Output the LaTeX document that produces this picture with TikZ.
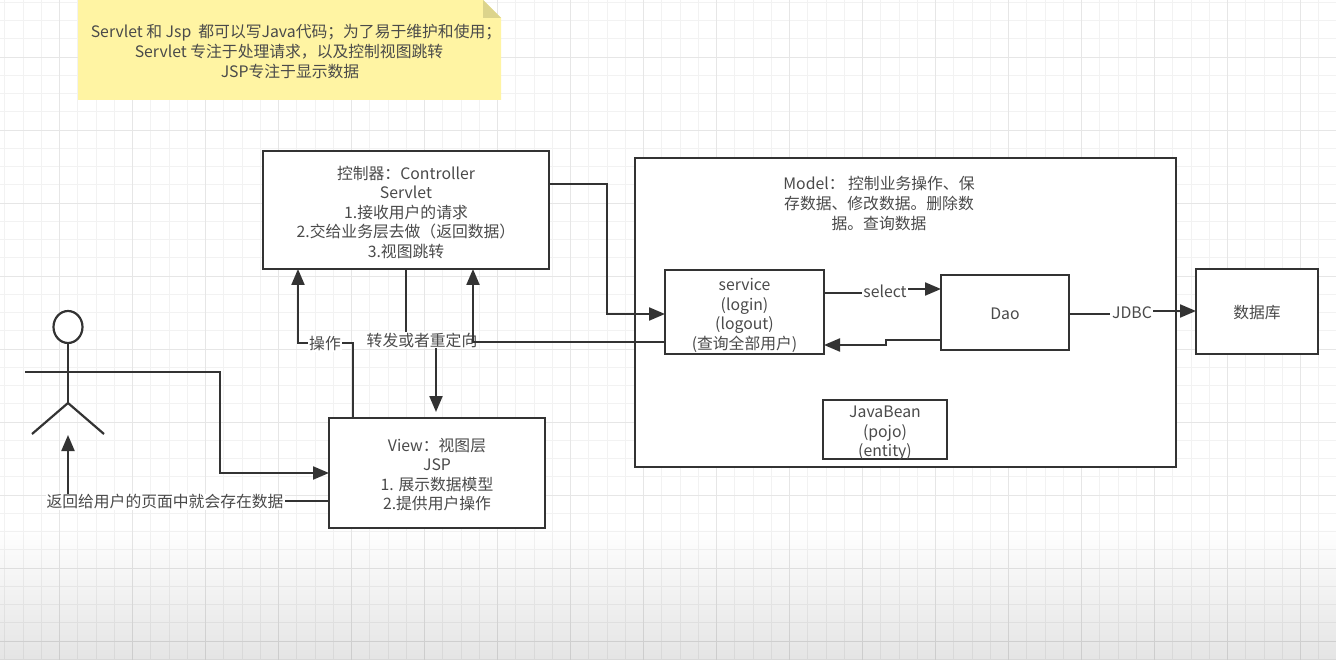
\documentclass[tikz,border=0pt]{standalone}
\usepackage{fontspec}
\setmainfont{Noto Sans CJK SC}
\usetikzlibrary{arrows.meta,shapes.geometric}
\definecolor{ink}{HTML}{333333}
\definecolor{txt}{HTML}{4A4A4A}
\definecolor{gridminor}{HTML}{F2F2F2}
\definecolor{gridmajor}{HTML}{E6E6E6}
\definecolor{noteyellow}{HTML}{FFF4A3}
\definecolor{notefold}{HTML}{DCD48C}
\tikzset{
  x=1pt,y=-1pt,
  boxn/.style={draw=ink,line width=2.2pt,fill=white,inner sep=0pt,outer sep=0pt,anchor=north west},
  boxtext/.style={align=center,text=txt,font=\fontsize{15.8}{19.5}\selectfont,inner sep=0pt},
  conn/.style={draw=ink,line width=2.2pt,line join=miter},
  arr/.style={conn,-{Triangle[length=16pt,width=13pt]}},
  lab/.style={fill=white,text=txt,font=\fontsize{15.8}{19}\selectfont,inner xsep=1pt,inner ysep=1pt,align=center},
}
\begin{document}
\begin{tikzpicture}
\useasboundingbox (0,0) rectangle (1336,660);
\fill[white] (0,0) rectangle (1336,660);
% grid
\foreach \i in {0,...,73} {\draw[gridminor,line width=.8pt] (\i*18.25+4.7,0) -- (\i*18.25+4.7,660);}
\foreach \i in {0,...,36} {\draw[gridminor,line width=.8pt] (0,\i*18.25+2.3) -- (1336,\i*18.25+2.3);}
\foreach \i in {0,...,17} {\draw[gridmajor,line width=.9pt] (\i*73+59.7,0) -- (\i*73+59.7,660);}
\foreach \i in {0,...,8} {\draw[gridmajor,line width=.9pt] (0,\i*73+57) -- (1336,\i*73+57);}
% bottom fade
\foreach \i in {0,...,25} {\fill[black,fill opacity=.0035] (0,530+\i*5) rectangle (1336,660);}
% note
\fill[noteyellow] (78,0) -- (483,0) -- (501,18) -- (501,100) -- (78,100) -- cycle;
\fill[notefold] (483,0) -- (501,18) -- (483,18) -- cycle;
\node[boxtext,font=\fontsize{15.8}{19.8}\selectfont] (note) at (296,51.5)
 {Servlet 和 Jsp\ \ 都可以写Java代码；为了易于维护和使用；\\Servlet 专注于处理请求，以及控制视图跳转\rule{14pt}{0pt}\\JSP专注于显示数据\rule{12pt}{0pt}};
% model container
\node[boxn,minimum width=541pt,minimum height=309pt] (model) at (635,158) {};
\node[boxtext,font=\fontsize{15.8}{20}\selectfont] (modelt) at (879,204)
 {Model： 控制业务操作、保\\存数据、修改数据。删除数\\据。查询数据};
% boxes
\node[boxn,minimum width=286pt,minimum height=118pt] (ctrl) at (263,151) {};
\node[boxtext,yshift=-2.2pt] (ctrlt) at (ctrl.center)
 {控制器：Controller\\Servlet\\1.接收用户的请求\\2.交给业务层去做（返回数据）\\3.视图跳转};
\node[boxn,minimum width=216pt,minimum height=110pt] (view) at (329,418) {};
\node[boxtext,yshift=-1.5pt] (viewt) at (view.center)
 {View：视图层\\JSP\\1. 展示数据模型\\2.提供用户操作};
\node[boxn,minimum width=159pt,minimum height=84pt] (svc) at (665,270) {};
\node[boxtext,yshift=-3.5pt] (svct) at (svc.center)
 {service\\(login)\\(logout)\\(查询全部用户)};
\node[boxn,minimum width=128pt,minimum height=75pt] (dao) at (941,275) {};
\node[boxtext,yshift=-1pt] (daot) at (dao.center) {Dao};
\node[boxn,minimum width=122pt,minimum height=85pt] (db) at (1196,269) {};
\node[boxtext,yshift=-1pt] (dbt) at (db.center) {数据库};
\node[boxn,minimum width=124pt,minimum height=59pt] (bean) at (823,400) {};
\node[boxtext,yshift=-4pt] (beant) at (bean.center) {JavaBean\\(pojo)\\(entity)};
% actor
\node[draw=ink,line width=2.2pt,fill=white,ellipse,minimum width=29pt,minimum height=32pt,inner sep=0pt,outer sep=0pt] (head) at (68,327) {};
\coordinate (hipc) at (68,403);
\coordinate (armL) at (25,372);
\coordinate (armR) at (113,372);
\coordinate (legL) at (32,434);
\coordinate (legR) at (104,434);
\draw[conn] (head.south) -- (hipc);
\draw[conn] (armL) -- (armR);
\draw[conn] (legL) -- (hipc) -- (legR);
% connectors
\coordinate (c1) at (607,184);
\coordinate (c2) at (607,314);
\draw[arr] (ctrl.east |- c1) -- (c1) -- (c2) -- (svc.west |- c2);
% select
\coordinate (s1) at (880,293);
\coordinate (s2) at (880,289);
\draw[conn] (svc.east |- s1) -- (s1);
\draw[arr] (s2) -- (dao.west |- s2);
\node[lab] (sel) at (885,291) {select};
% dao back
\coordinate (d1) at (886,340);
\coordinate (d2) at (886,345);
\draw[arr] (dao.west |- d1) -- (d1) -- (d2) -- (svc.east |- d2);
% JDBC
\coordinate (j1) at (1110,314);
\coordinate (j2) at (1150,311);
\draw[conn] (dao.east |- j1) -- (j1);
\draw[arr] (j2) -- (db.west |- j2);
\node[lab] (jdbc) at (1132,313) {JDBC};
% controller to view
\coordinate (t1) at (406,342);
\coordinate (t2) at (436,342);
\coordinate (t3) at (436,412);
\draw[arr] (ctrl.south -| t1) -- (t1) -- (t2) -- (t3);
\node[lab] (fw) at (422,340) {转发或者重定向};
% service back to controller
\coordinate (b1) at (473,342);
\draw[arr] (svc.west |- b1) -- (b1) -- (ctrl.south -| b1);
% view to controller
\coordinate (o1) at (353,343);
\coordinate (o2) at (298,343);
\draw[arr] (view.north -| o1) -- (o1) -- (o2) -- (ctrl.south -| o2);
\node[lab] (op) at (325,344) {操作};
% actor to view
\coordinate (a1) at (220,372);
\coordinate (a2) at (220,473);
\draw[arr] (armR) -- (a1) -- (a2) -- (view.west |- a2);
% view to actor
\coordinate (r1) at (68,501);
\coordinate (r2) at (68,435);
\draw[arr] (view.west |- r1) -- (r1) -- (r2);
\node[lab] (ret) at (165,502) {返回给用户的页面中就会存在数据};
\end{tikzpicture}
\end{document}
